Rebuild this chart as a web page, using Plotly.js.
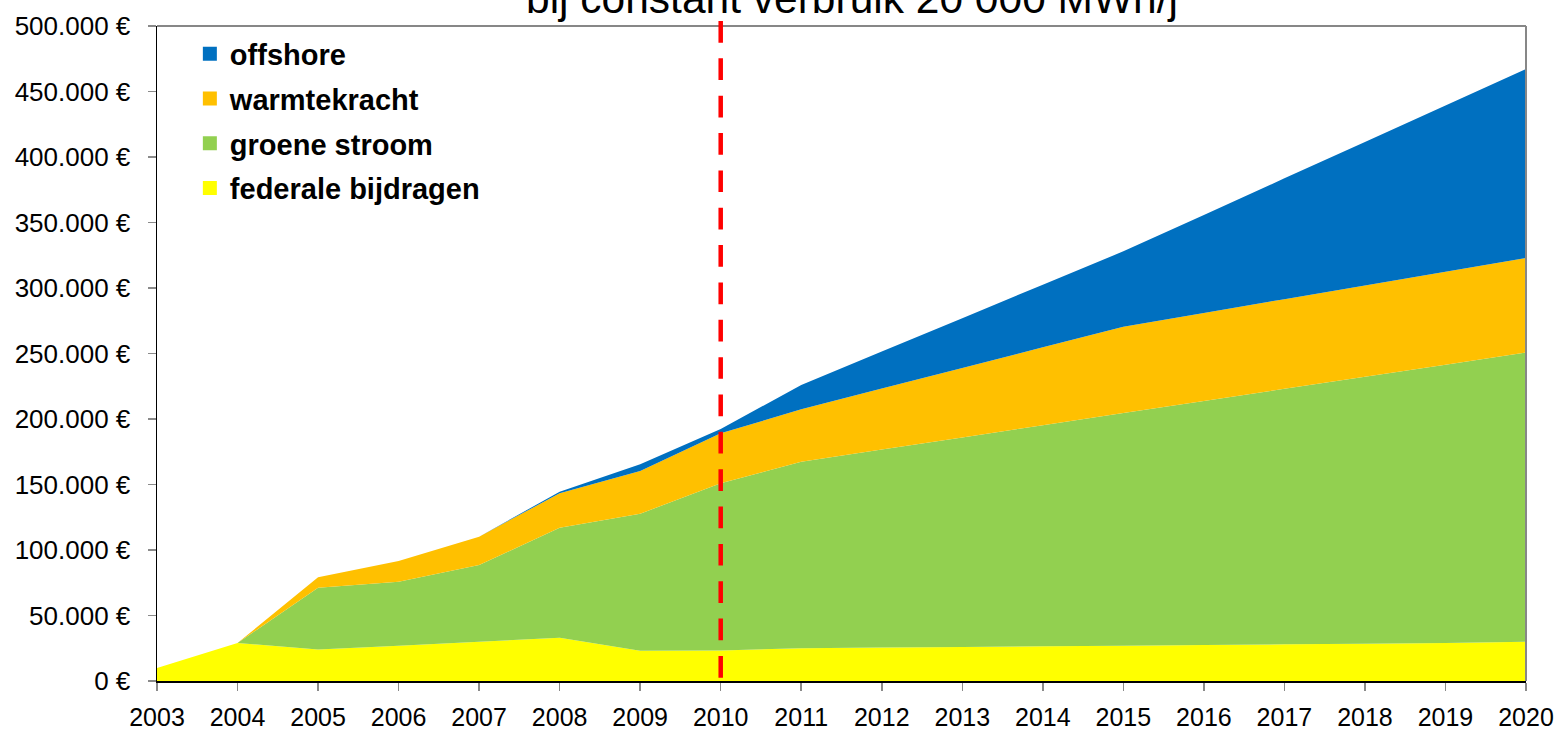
<!DOCTYPE html>
<html>
<head>
<meta charset="utf-8">
<script src="https://cdn.plot.ly/plotly-3.0.1.min.js"></script>
<style>html,body{margin:0;padding:0;background:#fff;}#chart{width:1558px;height:732px;}</style>
</head>
<body>
<div id="chart"></div>
<script>
// ---- data ----
var years = [2003, 2004, 2005, 2006, 2007, 2008, 2009, 2010, 2011, 2012, 2013, 2014, 2015, 2016, 2017, 2018, 2019, 2020];
var yearLabels = ["2003", "2004", "2005", "2006", "2007", "2008", "2009", "2010", "2011", "2012", "2013", "2014", "2015", "2016", "2017", "2018", "2019", "2020"];
var federaleBijdragen = [10000, 29000, 24000, 27000, 30000, 33000, 23000, 23300, 25000, 25500, 26000, 26500, 27000, 27500, 28000, 28500, 29000, 30000];
var groeneStroom = [0, 0, 47200, 48800, 58500, 84000, 104700, 127600, 142400, 151200, 159900, 168700, 177500, 186300, 195000, 203800, 212500, 220800];
var warmtekracht = [0, 0, 8000, 15800, 21700, 26300, 32600, 38200, 40000, 46500, 53100, 59500, 66000, 67200, 68500, 69600, 70900, 72100];
var offshore = [0, 0, 0, 0, 0, 1200, 5100, 3300, 18600, 28300, 38000, 47800, 57500, 74800, 92200, 109600, 127000, 144300];
var seriesNames = ["federale bijdragen", "groene stroom", "warmtekracht", "offshore"];
var seriesColors = ["#FFFF00", "#92D050", "#FFC000", "#0070C0"];
var markerYear = 2010;
var titleText = "bij constant verbruik 20 000 MWh/j";

var seriesValues = [federaleBijdragen, groeneStroom, warmtekracht, offshore];
var FONT = "Liberation Sans, Arial, Helvetica, sans-serif";

var data = [];
seriesValues.forEach(function (vals, i) {
  data.push({
    type: "scatter",
    x: years,
    y: vals,
    name: seriesNames[i],
    stackgroup: "one",
    mode: "none",
    fill: i === 0 ? "tozeroy" : "tonexty",
    fillcolor: seriesColors[i],
    showlegend: false,
    hoverinfo: "x+y+name"
  });
});
// legend entries (top to bottom: offshore, warmtekracht, groene stroom, federale bijdragen)
for (var k = seriesNames.length - 1; k >= 0; k--) {
  data.push({
    type: "scatter",
    x: [null],
    y: [null],
    name: seriesNames[k],
    legendgroup: "g" + (seriesNames.length - k),
    mode: "markers",
    marker: {symbol: "square", size: 14, color: seriesColors[k], line: {width: 0}},
    showlegend: true,
    hoverinfo: "skip"
  });
}

var layout = {
  width: 1558,
  height: 732,
  margin: {l: 157, r: 32, t: 26, b: 51, pad: 0},
  paper_bgcolor: "#ffffff",
  plot_bgcolor: "#ffffff",
  separators: ",.",
  font: {family: FONT, color: "#000000"},
  showlegend: true,
  title: {
    text: titleText,
    font: {family: FONT, size: 42.5, color: "#000000"},
    xref: "container",
    yref: "container",
    x: 852 / 1558,
    xanchor: "center",
    y: 1 - 13.3 / 732,
    yanchor: "bottom"
  },
  legend: {
    x: 0.024,
    xanchor: "left",
    y: 0.9962,
    yanchor: "top",
    bgcolor: "rgba(0,0,0,0)",
    borderwidth: 0,
    traceorder: "grouped",
    tracegroupgap: 4,
    font: {family: FONT, size: 29, color: "#000000", weight: "bold"},
    itemsizing: "trace"
  },
  xaxis: {
    range: [years[0], years[years.length - 1]],
    tickvals: years,
    ticktext: yearLabels,
    showgrid: false,
    zeroline: false,
    showline: true,
    linecolor: "#000000",
    linewidth: 1.5,
    ticks: "outside",
    ticklen: 8,
    tickwidth: 1.5,
    tickcolor: "#8a8a8a",
    ticklabelstandoff: 5,
    tickfont: {family: FONT, size: 25, color: "#000000"},
    fixedrange: true
  },
  yaxis: {
    range: [0, 500000],
    dtick: 50000,
    tick0: 0,
    tickformat: ",d",
    ticksuffix: " €",
    showgrid: false,
    zeroline: false,
    showline: true,
    linecolor: "#000000",
    linewidth: 1.5,
    ticks: "outside",
    ticklen: 8,
    tickwidth: 1.5,
    tickcolor: "#8a8a8a",
    ticklabelstandoff: 12,
    tickfont: {family: FONT, size: 26, color: "#000000"},
    fixedrange: true
  },
  shapes: [
    {type: "line", xref: "paper", yref: "paper", x0: 0, x1: 1, y0: 1, y1: 1,
     line: {color: "#878787", width: 2}, layer: "above"},
    {type: "line", xref: "paper", yref: "paper", x0: 1, x1: 1, y0: 1, y1: 0,
     line: {color: "#878787", width: 2}, layer: "above"},
    {type: "line", xref: "x", yref: "paper", x0: markerYear, x1: markerYear, y0: 1.0076, y1: 0,
     line: {color: "#FF0000", width: 4.5, dash: "21.7px,15.65px"}, layer: "above"}
  ]
};

Plotly.newPlot("chart", data, layout, {displayModeBar: false, staticPlot: true});
</script>
</body>
</html>
